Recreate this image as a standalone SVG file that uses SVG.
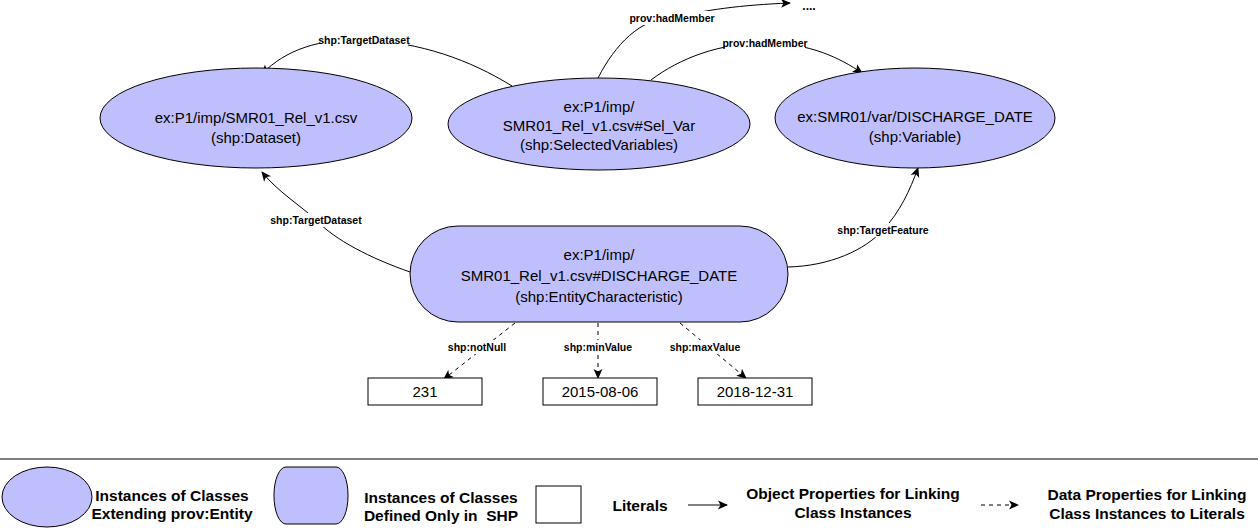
<svg xmlns="http://www.w3.org/2000/svg" width="1258" height="531" viewBox="0 0 1258 531">
<defs>
<marker id="arr" viewBox="0 0 10 10" refX="9" refY="5" markerWidth="10" markerHeight="10" markerUnits="userSpaceOnUse" orient="auto">
<path d="M0,0.5 L10,5 L0,9.5 L2.5,5 Z" fill="#000"/>
</marker>
<style>
.node{fill:#bfbffd;stroke:#000;stroke-width:1}
.lit{fill:#fff;stroke:#000;stroke-width:1}
.t{font-family:"Liberation Sans",Arial,sans-serif;font-size:15px;fill:#000;text-anchor:middle}
.lbl{font-family:"Liberation Sans",Arial,sans-serif;font-size:10.5px;font-weight:bold;fill:#000;text-anchor:middle}
.lg{font-family:"Liberation Sans",Arial,sans-serif;font-size:15.5px;font-weight:bold;fill:#000;text-anchor:middle;white-space:pre}
.e{fill:none;stroke:#000;stroke-width:1;marker-end:url(#arr)}
.d{fill:none;stroke:#000;stroke-width:1;stroke-dasharray:4 4;marker-end:url(#arr)}
.bg{fill:#fff}
</style>
</defs>

<g id="connectors">
<path class="e" d="M512,86 C470,60 420,42 364,40 C320,38 285,50 262,74"/>
<path class="e" d="M598,78 C615,45 640,18 672,18 C705,10 740,5 790,3"/>
<path class="e" d="M651,80 C680,58 720,43 765,43 C810,43 840,58 862,73"/>
<path class="e" d="M410,272 C370,258 335,240 316,220 C300,205 278,192 262,172"/>
<path class="e" d="M788,267 C830,266 865,250 883,230 C900,212 910,190 918,168"/>
<path class="d" d="M515,323 L444,379"/>
<path class="d" d="M598,323 L598,378"/>
<path class="d" d="M680,323 L746,378"/>
<rect class="bg" x="320" y="33" width="88" height="14"/>
<text class="lbl" x="364" y="44">shp:TargetDataset</text>
<rect class="bg" x="632" y="11" width="80" height="14"/>
<text class="lbl" x="672" y="22">prov:hadMember</text>
<rect class="bg" x="725" y="36" width="80" height="14"/>
<text class="lbl" x="765" y="47">prov:hadMember</text>
<rect class="bg" x="272" y="213" width="88" height="14"/>
<text class="lbl" x="316" y="224">shp:TargetDataset</text>
<rect class="bg" x="842" y="223" width="82" height="14"/>
<text class="lbl" x="883" y="234">shp:TargetFeature</text>
<rect class="bg" x="446" y="340" width="62" height="14"/>
<text class="lbl" x="477" y="351">shp:notNull</text>
<rect class="bg" x="563" y="340" width="70" height="14"/>
<text class="lbl" x="598" y="351">shp:minValue</text>
<rect class="bg" x="669" y="340" width="72" height="14"/>
<text class="lbl" x="705" y="351">shp:maxValue</text>
<text class="lbl" x="809" y="10" style="font-size:12px">....</text>
</g>

<g id="node-dataset">
<ellipse class="node" cx="256" cy="118" rx="156" ry="50"/>
<text class="t" x="256" y="123">ex:P1/imp/SMR01_Rel_v1.csv</text>
<text class="t" x="256" y="143">(shp:Dataset)</text>
</g>

<g id="node-selvar">
<ellipse class="node" cx="599" cy="124" rx="151" ry="46"/>
<text class="t" x="599" y="112">ex:P1/imp/</text>
<text class="t" x="599" y="131">SMR01_Rel_v1.csv#Sel_Var</text>
<text class="t" x="599" y="150">(shp:SelectedVariables)</text>
</g>

<g id="node-variable">
<ellipse class="node" cx="915" cy="118" rx="140" ry="50"/>
<text class="t" x="915" y="122">ex:SMR01/var/DISCHARGE_DATE</text>
<text class="t" x="915" y="142">(shp:Variable)</text>
</g>

<g id="node-characteristic">
<rect class="node" x="410" y="226" width="378" height="96" rx="48" ry="48"/>
<text class="t" x="599" y="260">ex:P1/imp/</text>
<text class="t" x="599" y="281">SMR01_Rel_v1.csv#DISCHARGE_DATE</text>
<text class="t" x="599" y="302">(shp:EntityCharacteristic)</text>
</g>

<g id="lit-231">
<rect class="lit" x="368" y="378" width="114" height="27"/>
<text class="t" x="425" y="397">231</text>
</g>
<g id="lit-min">
<rect class="lit" x="543" y="378" width="114" height="27"/>
<text class="t" x="600" y="397">2015-08-06</text>
</g>
<g id="lit-max">
<rect class="lit" x="698" y="378" width="114" height="27"/>
<text class="t" x="755" y="397">2018-12-31</text>
</g>

<g id="legend">
<line x1="0" y1="459" x2="1258" y2="459" stroke="#555" stroke-width="1.5"/>
<ellipse class="node" cx="47" cy="497" rx="45" ry="30"/>
<text class="lg" x="172" y="501">Instances of Classes</text>
<text class="lg" x="172" y="519">Extending prov:Entity</text>
<rect class="node" x="274" y="467" width="74" height="57" rx="12" ry="28"/>
<text class="lg" x="441" y="503">Instances of Classes</text>
<text class="lg" x="441" y="521" xml:space="preserve">Defined Only in  SHP</text>
<rect class="lit" x="536" y="486" width="45" height="37"/>
<text class="lg" x="640" y="511">Literals</text>
<path class="e" d="M688,505 L727,505"/>
<text class="lg" x="853" y="499">Object Properties for Linking</text>
<text class="lg" x="853" y="518">Class Instances</text>
<path class="d" d="M981,505 L1018,505"/>
<text class="lg" x="1147" y="500">Data Properties for Linking</text>
<text class="lg" x="1147" y="519">Class Instances to Literals</text>
</g>
</svg>
